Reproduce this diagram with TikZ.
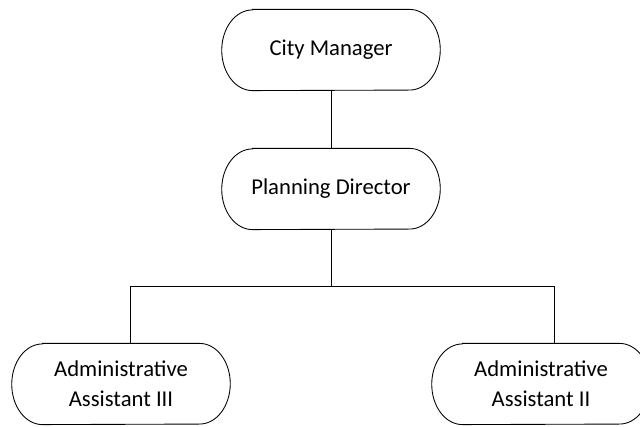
\documentclass[tikz,border=0pt]{standalone}
\usepackage{fontspec}
\setmainfont{Carlito}
\usetikzlibrary{positioning}

\tikzset{
  post/.style={minimum width=163.5pt, minimum height=60.5pt, align=center,
    font=\fontsize{17}{22.5}\selectfont, inner sep=0pt},
  wire/.style={line width=0.65pt}
}

\begin{document}
\begin{tikzpicture}[x=0.75pt,y=-0.75pt]

\useasboundingbox (0,0) rectangle (640,427);

\node[post] (manager) at (331,50) {City Manager};
\node[post] (director) at (331,189) {Planning Director};
\node[post] (assist3) at (121,384) {Administrative\\Assistant III};
\node[post] (assist2) at (541,384) {Administrative\\Assistant II};

% pill outlines
\foreach \n in {manager,director,assist3,assist2} {
  \draw[wire] ([xshift=23pt]\n.north west) -- ([xshift=-23pt]\n.north east)
    arc[start angle=90,end angle=-90,x radius=23pt,y radius=30.25pt]
    -- ([xshift=23pt]\n.south west)
    arc[start angle=270,end angle=90,x radius=23pt,y radius=30.25pt] -- cycle;
}

\coordinate (bus) at (director.south |- 0,286);

\draw[wire] (manager) -- (director);
\draw[wire] (director) -- (bus);
\draw[wire] (bus) -| ([xshift=7pt]assist3.north);
\draw[wire] (bus) -| ([xshift=10pt]assist2.north);

\end{tikzpicture}
\end{document}
